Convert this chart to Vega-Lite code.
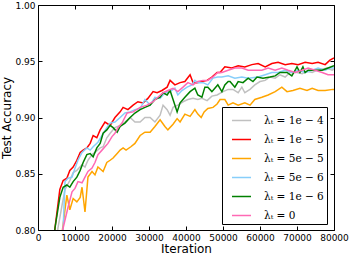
{
  "$schema": "https://vega.github.io/schema/vega-lite/v6.json",
  "width": 296,
  "height": 225,
  "autosize": {"type": "none"},
  "padding": {"left": 38, "top": 5, "right": 15, "bottom": 25},
  "config": {
    "view": {"stroke": "black", "strokeWidth": 1},
    "font": "DejaVu Sans",
    "axis": {"grid": false, "domain": false, "tickColor": "black", "tickSize": -4, "tickWidth": 1, "labelFontSize": 9, "labelColor": "black", "titleFontSize": 12, "titleFontWeight": "normal", "titleColor": "black", "labelPadding": 7, "labelFlush": false, "labelOverlap": false}
  },
  "data": {"values": [
    {"s":"1e-4","i":4500,"a":0.77},{"s":"1e-4","i":5400,"a":0.802},{"s":"1e-4","i":6500,"a":0.822},{"s":"1e-4","i":7300,"a":0.836},{"s":"1e-4","i":8600,"a":0.844},{"s":"1e-4","i":9500,"a":0.851},{"s":"1e-4","i":10500,"a":0.853},{"s":"1e-4","i":11900,"a":0.858},{"s":"1e-4","i":12700,"a":0.856},{"s":"1e-4","i":13500,"a":0.862},{"s":"1e-4","i":14600,"a":0.867},{"s":"1e-4","i":15400,"a":0.869},{"s":"1e-4","i":16800,"a":0.873},{"s":"1e-4","i":17600,"a":0.874},{"s":"1e-4","i":18600,"a":0.882},{"s":"1e-4","i":19500,"a":0.886},{"s":"1e-4","i":20800,"a":0.891},{"s":"1e-4","i":22200,"a":0.893},{"s":"1e-4","i":23500,"a":0.896},{"s":"1e-4","i":24900,"a":0.900},{"s":"1e-4","i":26200,"a":0.896},{"s":"1e-4","i":27600,"a":0.896},{"s":"1e-4","i":28900,"a":0.900},{"s":"1e-4","i":30300,"a":0.900},{"s":"1e-4","i":31600,"a":0.896},{"s":"1e-4","i":33000,"a":0.902},{"s":"1e-4","i":33800,"a":0.911},{"s":"1e-4","i":34900,"a":0.907},{"s":"1e-4","i":35700,"a":0.902},{"s":"1e-4","i":36500,"a":0.909},{"s":"1e-4","i":37800,"a":0.911},{"s":"1e-4","i":39200,"a":0.914},{"s":"1e-4","i":40500,"a":0.916},{"s":"1e-4","i":41900,"a":0.917},{"s":"1e-4","i":43200,"a":0.916},{"s":"1e-4","i":44300,"a":0.917},{"s":"1e-4","i":45700,"a":0.915},{"s":"1e-4","i":47000,"a":0.919},{"s":"1e-4","i":48400,"a":0.920},{"s":"1e-4","i":50000,"a":0.923},{"s":"1e-4","i":51400,"a":0.925},{"s":"1e-4","i":52700,"a":0.925},{"s":"1e-4","i":54100,"a":0.922},{"s":"1e-4","i":55100,"a":0.927},{"s":"1e-4","i":55900,"a":0.922},{"s":"1e-4","i":57300,"a":0.925},{"s":"1e-4","i":58600,"a":0.929},{"s":"1e-4","i":60000,"a":0.932},{"s":"1e-4","i":61400,"a":0.933},{"s":"1e-4","i":62700,"a":0.936},{"s":"1e-4","i":64100,"a":0.935},{"s":"1e-4","i":65400,"a":0.938},{"s":"1e-4","i":66800,"a":0.936},{"s":"1e-4","i":68100,"a":0.940},{"s":"1e-4","i":70000,"a":0.940},{"s":"1e-4","i":71400,"a":0.939},{"s":"1e-4","i":72700,"a":0.941},{"s":"1e-4","i":74100,"a":0.940},{"s":"1e-4","i":75400,"a":0.942},{"s":"1e-4","i":76800,"a":0.943},{"s":"1e-4","i":78100,"a":0.944},{"s":"1e-4","i":79500,"a":0.942},{"s":"1e-4","i":80000,"a":0.943},
    {"s":"1e-5","i":3400,"a":0.77},{"s":"1e-5","i":4600,"a":0.802},{"s":"1e-5","i":5900,"a":0.836},{"s":"1e-5","i":6800,"a":0.844},{"s":"1e-5","i":7800,"a":0.846},{"s":"1e-5","i":8600,"a":0.853},{"s":"1e-5","i":9500,"a":0.856},{"s":"1e-5","i":10500,"a":0.862},{"s":"1e-5","i":11400,"a":0.869},{"s":"1e-5","i":12200,"a":0.871},{"s":"1e-5","i":13200,"a":0.873},{"s":"1e-5","i":14100,"a":0.877},{"s":"1e-5","i":14900,"a":0.884},{"s":"1e-5","i":15900,"a":0.882},{"s":"1e-5","i":16800,"a":0.889},{"s":"1e-5","i":18100,"a":0.896},{"s":"1e-5","i":19500,"a":0.893},{"s":"1e-5","i":20800,"a":0.900},{"s":"1e-5","i":22200,"a":0.905},{"s":"1e-5","i":23000,"a":0.909},{"s":"1e-5","i":24300,"a":0.907},{"s":"1e-5","i":25700,"a":0.911},{"s":"1e-5","i":27000,"a":0.914},{"s":"1e-5","i":28400,"a":0.913},{"s":"1e-5","i":29700,"a":0.917},{"s":"1e-5","i":31100,"a":0.923},{"s":"1e-5","i":32200,"a":0.922},{"s":"1e-5","i":33500,"a":0.924},{"s":"1e-5","i":34900,"a":0.927},{"s":"1e-5","i":35700,"a":0.933},{"s":"1e-5","i":37000,"a":0.929},{"s":"1e-5","i":38400,"a":0.931},{"s":"1e-5","i":39700,"a":0.932},{"s":"1e-5","i":41100,"a":0.938},{"s":"1e-5","i":41900,"a":0.931},{"s":"1e-5","i":43000,"a":0.931},{"s":"1e-5","i":44300,"a":0.932},{"s":"1e-5","i":45700,"a":0.933},{"s":"1e-5","i":47000,"a":0.936},{"s":"1e-5","i":48400,"a":0.940},{"s":"1e-5","i":49200,"a":0.940},{"s":"1e-5","i":50500,"a":0.945},{"s":"1e-5","i":52400,"a":0.944},{"s":"1e-5","i":54100,"a":0.946},{"s":"1e-5","i":55900,"a":0.945},{"s":"1e-5","i":57800,"a":0.947},{"s":"1e-5","i":59500,"a":0.948},{"s":"1e-5","i":61400,"a":0.945},{"s":"1e-5","i":63200,"a":0.948},{"s":"1e-5","i":64900,"a":0.949},{"s":"1e-5","i":66800,"a":0.947},{"s":"1e-5","i":68600,"a":0.948},{"s":"1e-5","i":70300,"a":0.947},{"s":"1e-5","i":72200,"a":0.949},{"s":"1e-5","i":74100,"a":0.948},{"s":"1e-5","i":75700,"a":0.949},{"s":"1e-5","i":77600,"a":0.947},{"s":"1e-5","i":78900,"a":0.951},{"s":"1e-5","i":80000,"a":0.953},
    {"s":"5e-5","i":5800,"a":0.77},{"s":"5e-5","i":6600,"a":0.80},{"s":"5e-5","i":7800,"a":0.831},{"s":"5e-5","i":8600,"a":0.818},{"s":"5e-5","i":9500,"a":0.828},{"s":"5e-5","i":10500,"a":0.825},{"s":"5e-5","i":11400,"a":0.829},{"s":"5e-5","i":11900,"a":0.838},{"s":"5e-5","i":12700,"a":0.816},{"s":"5e-5","i":13500,"a":0.847},{"s":"5e-5","i":14600,"a":0.852},{"s":"5e-5","i":15400,"a":0.849},{"s":"5e-5","i":16200,"a":0.856},{"s":"5e-5","i":17600,"a":0.852},{"s":"5e-5","i":18600,"a":0.860},{"s":"5e-5","i":19500,"a":0.862},{"s":"5e-5","i":20300,"a":0.864},{"s":"5e-5","i":21400,"a":0.868},{"s":"5e-5","i":22200,"a":0.871},{"s":"5e-5","i":23000,"a":0.873},{"s":"5e-5","i":23800,"a":0.871},{"s":"5e-5","i":25100,"a":0.874},{"s":"5e-5","i":26200,"a":0.877},{"s":"5e-5","i":27600,"a":0.884},{"s":"5e-5","i":28900,"a":0.887},{"s":"5e-5","i":30300,"a":0.887},{"s":"5e-5","i":31600,"a":0.892},{"s":"5e-5","i":33000,"a":0.898},{"s":"5e-5","i":34300,"a":0.892},{"s":"5e-5","i":35100,"a":0.889},{"s":"5e-5","i":36500,"a":0.894},{"s":"5e-5","i":37600,"a":0.899},{"s":"5e-5","i":38400,"a":0.896},{"s":"5e-5","i":39700,"a":0.903},{"s":"5e-5","i":41100,"a":0.901},{"s":"5e-5","i":42400,"a":0.907},{"s":"5e-5","i":43200,"a":0.903},{"s":"5e-5","i":44100,"a":0.900},{"s":"5e-5","i":44900,"a":0.905},{"s":"5e-5","i":45900,"a":0.908},{"s":"5e-5","i":47300,"a":0.909},{"s":"5e-5","i":48400,"a":0.912},{"s":"5e-5","i":49200,"a":0.916},{"s":"5e-5","i":50500,"a":0.916},{"s":"5e-5","i":51400,"a":0.911},{"s":"5e-5","i":52700,"a":0.913},{"s":"5e-5","i":54100,"a":0.911},{"s":"5e-5","i":55900,"a":0.913},{"s":"5e-5","i":57300,"a":0.911},{"s":"5e-5","i":58600,"a":0.916},{"s":"5e-5","i":60500,"a":0.918},{"s":"5e-5","i":62200,"a":0.920},{"s":"5e-5","i":64100,"a":0.923},{"s":"5e-5","i":65900,"a":0.927},{"s":"5e-5","i":67300,"a":0.923},{"s":"5e-5","i":68900,"a":0.924},{"s":"5e-5","i":70800,"a":0.926},{"s":"5e-5","i":72700,"a":0.924},{"s":"5e-5","i":74100,"a":0.926},{"s":"5e-5","i":75700,"a":0.924},{"s":"5e-5","i":77600,"a":0.924},{"s":"5e-5","i":79700,"a":0.925},{"s":"5e-5","i":80000,"a":0.925},
    {"s":"5e-6","i":5600,"a":0.77},{"s":"5e-6","i":6800,"a":0.802},{"s":"5e-6","i":7300,"a":0.843},{"s":"5e-6","i":8100,"a":0.846},{"s":"5e-6","i":9200,"a":0.847},{"s":"5e-6","i":10000,"a":0.855},{"s":"5e-6","i":10800,"a":0.862},{"s":"5e-6","i":11900,"a":0.869},{"s":"5e-6","i":13200,"a":0.873},{"s":"5e-6","i":14100,"a":0.871},{"s":"5e-6","i":14900,"a":0.874},{"s":"5e-6","i":16200,"a":0.878},{"s":"5e-6","i":17300,"a":0.884},{"s":"5e-6","i":18600,"a":0.891},{"s":"5e-6","i":19500,"a":0.895},{"s":"5e-6","i":20800,"a":0.896},{"s":"5e-6","i":22200,"a":0.900},{"s":"5e-6","i":23500,"a":0.904},{"s":"5e-6","i":24900,"a":0.905},{"s":"5e-6","i":26200,"a":0.907},{"s":"5e-6","i":27600,"a":0.908},{"s":"5e-6","i":28900,"a":0.916},{"s":"5e-6","i":30300,"a":0.911},{"s":"5e-6","i":31600,"a":0.918},{"s":"5e-6","i":33000,"a":0.917},{"s":"5e-6","i":34300,"a":0.922},{"s":"5e-6","i":35700,"a":0.923},{"s":"5e-6","i":37000,"a":0.926},{"s":"5e-6","i":37800,"a":0.920},{"s":"5e-6","i":38900,"a":0.924},{"s":"5e-6","i":40300,"a":0.927},{"s":"5e-6","i":41600,"a":0.929},{"s":"5e-6","i":42400,"a":0.933},{"s":"5e-6","i":43200,"a":0.931},{"s":"5e-6","i":44600,"a":0.931},{"s":"5e-6","i":45900,"a":0.929},{"s":"5e-6","i":47300,"a":0.935},{"s":"5e-6","i":48600,"a":0.936},{"s":"5e-6","i":49700,"a":0.936},{"s":"5e-6","i":51400,"a":0.937},{"s":"5e-6","i":53200,"a":0.935},{"s":"5e-6","i":55100,"a":0.936},{"s":"5e-6","i":56800,"a":0.935},{"s":"5e-6","i":59500,"a":0.936},{"s":"5e-6","i":61400,"a":0.938},{"s":"5e-6","i":63200,"a":0.940},{"s":"5e-6","i":64900,"a":0.940},{"s":"5e-6","i":66800,"a":0.942},{"s":"5e-6","i":68600,"a":0.940},{"s":"5e-6","i":70300,"a":0.942},{"s":"5e-6","i":72200,"a":0.940},{"s":"5e-6","i":74100,"a":0.942},{"s":"5e-6","i":75700,"a":0.944},{"s":"5e-6","i":77600,"a":0.942},{"s":"5e-6","i":78900,"a":0.944},{"s":"5e-6","i":80000,"a":0.944},
    {"s":"1e-6","i":3800,"a":0.77},{"s":"1e-6","i":4600,"a":0.802},{"s":"1e-6","i":5900,"a":0.829},{"s":"1e-6","i":6800,"a":0.838},{"s":"1e-6","i":7800,"a":0.840},{"s":"1e-6","i":8600,"a":0.838},{"s":"1e-6","i":9500,"a":0.843},{"s":"1e-6","i":10500,"a":0.847},{"s":"1e-6","i":11400,"a":0.853},{"s":"1e-6","i":12200,"a":0.860},{"s":"1e-6","i":13200,"a":0.867},{"s":"1e-6","i":14100,"a":0.868},{"s":"1e-6","i":14900,"a":0.865},{"s":"1e-6","i":15900,"a":0.873},{"s":"1e-6","i":16800,"a":0.877},{"s":"1e-6","i":17600,"a":0.886},{"s":"1e-6","i":18600,"a":0.889},{"s":"1e-6","i":19500,"a":0.893},{"s":"1e-6","i":20300,"a":0.891},{"s":"1e-6","i":21400,"a":0.887},{"s":"1e-6","i":22200,"a":0.892},{"s":"1e-6","i":23500,"a":0.895},{"s":"1e-6","i":24900,"a":0.900},{"s":"1e-6","i":26200,"a":0.904},{"s":"1e-6","i":27600,"a":0.907},{"s":"1e-6","i":28900,"a":0.909},{"s":"1e-6","i":30300,"a":0.911},{"s":"1e-6","i":31600,"a":0.916},{"s":"1e-6","i":33000,"a":0.918},{"s":"1e-6","i":33800,"a":0.922},{"s":"1e-6","i":34900,"a":0.920},{"s":"1e-6","i":35700,"a":0.924},{"s":"1e-6","i":36500,"a":0.916},{"s":"1e-6","i":37600,"a":0.905},{"s":"1e-6","i":38400,"a":0.913},{"s":"1e-6","i":39700,"a":0.918},{"s":"1e-6","i":41100,"a":0.923},{"s":"1e-6","i":42400,"a":0.926},{"s":"1e-6","i":43200,"a":0.920},{"s":"1e-6","i":44300,"a":0.918},{"s":"1e-6","i":45100,"a":0.927},{"s":"1e-6","i":45900,"a":0.927},{"s":"1e-6","i":47000,"a":0.923},{"s":"1e-6","i":47800,"a":0.926},{"s":"1e-6","i":48600,"a":0.929},{"s":"1e-6","i":49700,"a":0.923},{"s":"1e-6","i":50500,"a":0.929},{"s":"1e-6","i":51400,"a":0.932},{"s":"1e-6","i":51900,"a":0.932},{"s":"1e-6","i":53200,"a":0.927},{"s":"1e-6","i":54100,"a":0.932},{"s":"1e-6","i":55400,"a":0.931},{"s":"1e-6","i":56800,"a":0.935},{"s":"1e-6","i":58100,"a":0.932},{"s":"1e-6","i":59200,"a":0.936},{"s":"1e-6","i":60800,"a":0.935},{"s":"1e-6","i":62700,"a":0.936},{"s":"1e-6","i":64100,"a":0.937},{"s":"1e-6","i":65400,"a":0.940},{"s":"1e-6","i":67300,"a":0.940},{"s":"1e-6","i":68600,"a":0.937},{"s":"1e-6","i":69500,"a":0.942},{"s":"1e-6","i":70000,"a":0.945},{"s":"1e-6","i":70800,"a":0.940},{"s":"1e-6","i":71600,"a":0.945},{"s":"1e-6","i":72200,"a":0.940},{"s":"1e-6","i":73000,"a":0.942},{"s":"1e-6","i":74900,"a":0.942},{"s":"1e-6","i":76800,"a":0.942},{"s":"1e-6","i":78400,"a":0.944},{"s":"1e-6","i":80000,"a":0.946},
    {"s":"0","i":5600,"a":0.77},{"s":"0","i":6800,"a":0.802},{"s":"0","i":8100,"a":0.820},{"s":"0","i":9200,"a":0.834},{"s":"0","i":10000,"a":0.837},{"s":"0","i":10800,"a":0.843},{"s":"0","i":11900,"a":0.842},{"s":"0","i":12700,"a":0.847},{"s":"0","i":13500,"a":0.852},{"s":"0","i":14600,"a":0.855},{"s":"0","i":15400,"a":0.860},{"s":"0","i":16200,"a":0.867},{"s":"0","i":17300,"a":0.871},{"s":"0","i":18100,"a":0.874},{"s":"0","i":18900,"a":0.877},{"s":"0","i":20000,"a":0.883},{"s":"0","i":20800,"a":0.886},{"s":"0","i":21600,"a":0.891},{"s":"0","i":22700,"a":0.895},{"s":"0","i":24100,"a":0.904},{"s":"0","i":25700,"a":0.905},{"s":"0","i":27600,"a":0.909},{"s":"0","i":29500,"a":0.911},{"s":"0","i":31100,"a":0.914},{"s":"0","i":32400,"a":0.918},{"s":"0","i":33800,"a":0.922},{"s":"0","i":35100,"a":0.924},{"s":"0","i":36500,"a":0.926},{"s":"0","i":37800,"a":0.923},{"s":"0","i":39200,"a":0.927},{"s":"0","i":40500,"a":0.931},{"s":"0","i":41900,"a":0.929},{"s":"0","i":43200,"a":0.932},{"s":"0","i":44600,"a":0.933},{"s":"0","i":45900,"a":0.933},{"s":"0","i":47300,"a":0.936},{"s":"0","i":48600,"a":0.940},{"s":"0","i":49700,"a":0.940},{"s":"0","i":51400,"a":0.942},{"s":"0","i":53200,"a":0.944},{"s":"0","i":55100,"a":0.944},{"s":"0","i":56800,"a":0.942},{"s":"0","i":58600,"a":0.942},{"s":"0","i":60500,"a":0.942},{"s":"0","i":62200,"a":0.944},{"s":"0","i":64100,"a":0.942},{"s":"0","i":65900,"a":0.944},{"s":"0","i":67600,"a":0.942},{"s":"0","i":69500,"a":0.940},{"s":"0","i":71400,"a":0.942},{"s":"0","i":73000,"a":0.944},{"s":"0","i":74900,"a":0.942},{"s":"0","i":76800,"a":0.940},{"s":"0","i":78400,"a":0.938},{"s":"0","i":80000,"a":0.938}
  ]},
  "layer": [
    {
      "mark": {"type": "line", "clip": true, "strokeWidth": 1.5},
      "encoding": {
        "x": {"field": "i", "type": "quantitative", "scale": {"domain": [0, 80000], "nice": false}, "axis": {"values": [0,10000,20000,30000,40000,50000,60000,70000,80000], "format": "d", "title": "Iteration", "titlePadding": 1}},
        "y": {"field": "a", "type": "quantitative", "scale": {"domain": [0.8, 1.0], "nice": false, "zero": false}, "axis": {"values": [0.8,0.85,0.9,0.95,1.0], "format": ".2f", "title": "Test Accuracy", "titlePadding": 1}},
        "color": {"field": "s", "type": "nominal",
          "scale": {"domain": ["1e-4","1e-5","5e-5","5e-6","1e-6","0"], "range": ["#c0c0c0","#ff0000","#ffa500","#87cefa","#008000","#ff69b4"]},
          "legend": {"title": null, "orient": "none", "legendX": 184, "legendY": 102, "symbolType": "stroke", "symbolSize": 361, "symbolStrokeWidth": 1.5, "strokeColor": "black", "fillColor": "white", "padding": 3, "rowPadding": 3, "symbolOffset": 6, "labelOffset": 12, "labelFont": "DejaVu Serif", "labelFontSize": 10.5, "labelColor": "black", "labelExpr": "'λₜ = ' + replace(datum.label, '-', ' − ')"}
        }
      }
    },
    {
      "mark": {"type": "point", "opacity": 0},
      "encoding": {
        "x": {"field": "i", "type": "quantitative", "axis": {"orient": "top", "labels": false, "title": null, "values": [0,10000,20000,30000,40000,50000,60000,70000,80000]}},
        "y": {"field": "a", "type": "quantitative", "axis": {"orient": "right", "labels": false, "title": null, "values": [0.8,0.85,0.9,0.95,1.0]}}
      }
    }
  ],
  "resolve": {"axis": {"x": "independent", "y": "independent"}}
}
